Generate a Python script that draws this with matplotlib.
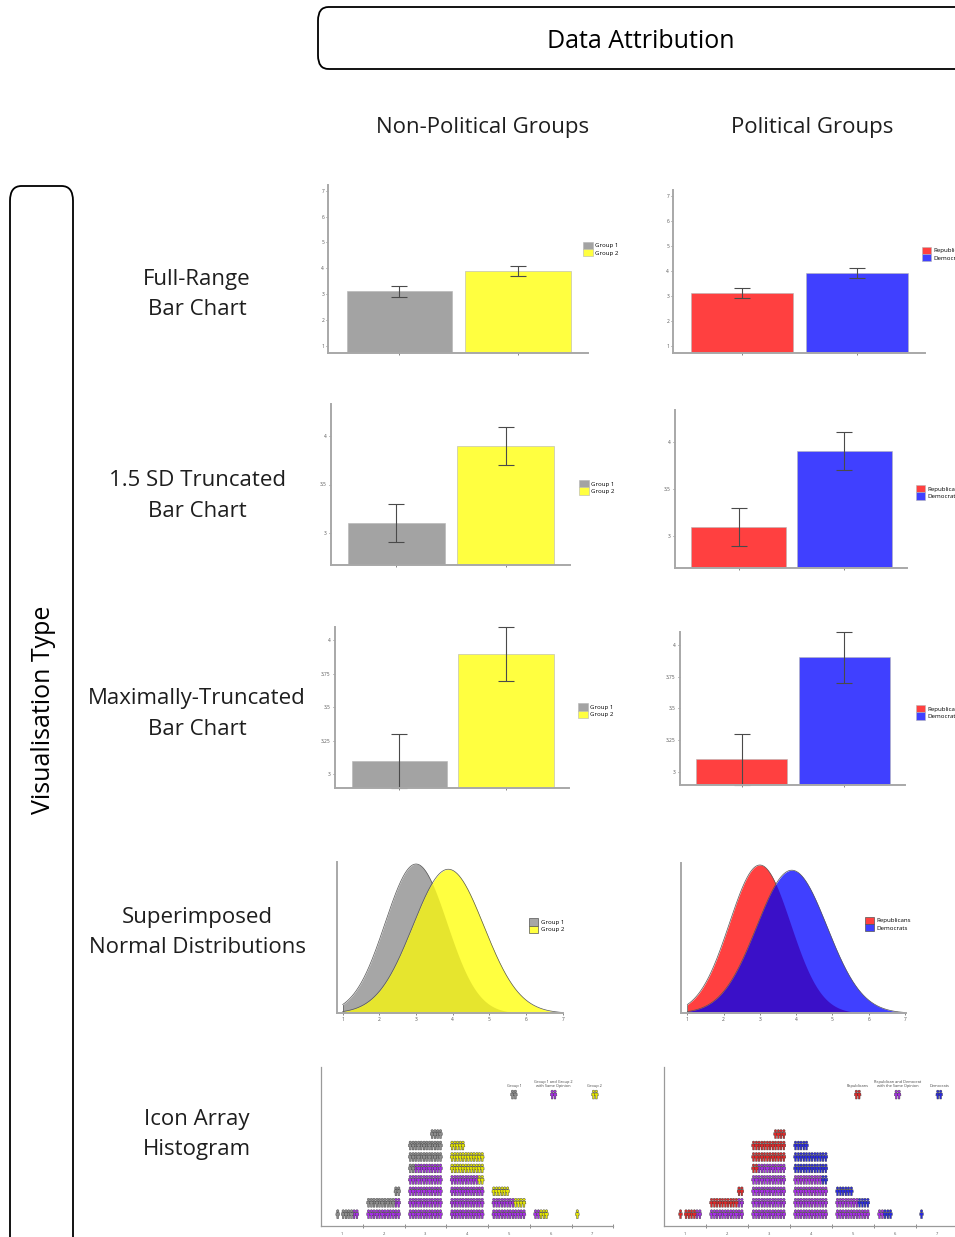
import numpy as np
import matplotlib
matplotlib.use("Agg")
import matplotlib.pyplot as plt
from matplotlib.patches import FancyBboxPatch, Patch
from matplotlib.path import Path
from matplotlib.ticker import FormatStrFormatter

plt.rcParams['font.family'] = ['Open Sans', 'DejaVu Sans']

W, H = 955, 1237

# ---------- data ----------
col_titles = ["Non-Political Groups", "Political Groups"]
row_titles = ["Full-Range\nBar Chart", "1.5 SD Truncated\nBar Chart",
              "Maximally-Truncated\nBar Chart", "Superimposed\nNormal Distributions",
              "Icon Array\nHistogram"]
group_labels = [["Group 1", "Group 2"], ["Republicans", "Democrats"]]
same_labels = ["Group 1 and Group 2\nwith Same Opinion",
               "Republican and Democrat\nwith the Same Opinion"]

means = [3.1, 3.9]
errors = [0.2, 0.2]
bar_yticks = [[1, 2, 3, 4, 5, 6, 7], [3, 3.5, 4], [3, 3.25, 3.5, 3.75, 4]]
bar_ylims = [(0.73, 7.22), (2.667, 4.333), (2.9, 4.1)]

dist_means = [3.0, 3.88]
dist_sds = [0.84, 0.97]
dist_peaks = [1.0, 0.965]
scale_points = [1, 2, 3, 4, 5, 6, 7]

# icon histogram per response option (icons; 0.5 = single person)
icons_same = [1, 7, 29, 23, 10, 1, 0]
icons_g1 = [2.5, 6, 15, 0, 0, 0, 0]
icons_g2 = [0, 0, 0, 15.5, 5, 1.5, 0.5]

# ---------- styles ----------
bar_colors = [["#a3a3a3", "#ffff40"], ["#ff4040", "#4040ff"]]
dist_colors = [["#a6a6a6", "#ffff40"], ["#ff4040", "#4040ff"]]
overlap_colors = ["#e6e52e", "#3a10c8"]
icon_colors = [["#8e8e8e", "#e6e600"], ["#e02828", "#2a2ae0"]]
same_color = "#a62ee6"
txt_color = "#1e1e1e"

fig = plt.figure(figsize=(W / 100, H / 100), dpi=100)


def fx(x):
    return x / W


def fy(y):
    return 1 - y / H


def add_ax(l, t, r, b):
    return fig.add_axes([l / W, 1 - b / H, (r - l) / W, (b - t) / H])


def style(ax, lw=1.4, color="#a8a8a8"):
    for s in ["top", "right"]:
        ax.spines[s].set_visible(False)
    for s in ["left", "bottom"]:
        ax.spines[s].set_color(color)
        ax.spines[s].set_linewidth(lw)
    ax.tick_params(labelsize=3.5, colors="#555555", length=1.5, width=0.5, pad=1.5)
    ax.set_facecolor("none")


def small_legend(ax, handles, labels, x, y):
    ax.legend(handles, labels, loc="upper left", bbox_to_anchor=(fx(x), fy(y)),
              bbox_transform=fig.transFigure, frameon=False, borderpad=0,
              borderaxespad=0, handlelength=1.55, handleheight=1.45,
              labelspacing=0, handletextpad=0.35, fontsize=4.4)


# ---------- header boxes and labels ----------
fig.patches.append(FancyBboxPatch((fx(318), fy(69)), fx(680), 62 / H,
                                  boxstyle="round,pad=0,rounding_size=0.011",
                                  transform=fig.transFigure, fill=False,
                                  ec="black", lw=1.3, clip_on=False))
fig.text(fx(641), fy(41), "Data Attribution", ha="center", va="center",
         fontsize=18, color="black")
fig.patches.append(FancyBboxPatch((fx(10), fy(1270)), 63 / W, 1084 / H,
                                  boxstyle="round,pad=0,rounding_size=0.012",
                                  transform=fig.transFigure, fill=False,
                                  ec="black", lw=1.3, clip_on=False))
fig.text(fx(43), fy(710), "Visualisation Type", ha="center", va="center",
         rotation=90, fontsize=18, color="black")

for x, t in zip([483, 812], col_titles):
    fig.text(fx(x), fy(128), t, ha="center", va="center", fontsize=16, color=txt_color)
for y, t in zip([294.5, 496, 714, 932.5, 1134.5], row_titles):
    fig.text(fx(197), fy(y), t, ha="center", va="center", fontsize=16,
             color=txt_color, linespacing=1.6)

# ---------- bar charts ----------
bar_boxes = [
    [(328.3, 185, 588, 352.7), (673.3, 190, 925, 352.7)],
    [(331, 404, 570, 565), (675, 410, 907, 568)],
    [(335, 627, 569, 787.7), (680, 632, 905, 785)],
]
bar_legend_pos = [
    [(583.3, 241.7), (921.7, 246.7)],
    [(579.3, 480), (916, 485)],
    [(578.3, 703.3), (916, 705)],
]
for r in range(3):
    for c in range(2):
        ax = add_ax(*bar_boxes[r][c])
        style(ax)
        bars = ax.bar([0, 1], means, width=0.89, color=bar_colors[c],
                      edgecolor="#b5b5b5", linewidth=0.4)
        eb = ax.errorbar([0, 1], means, yerr=errors, fmt="none", ecolor="#4a4a4a",
                         elinewidth=0.8, capsize=6, capthick=0.8)
        for art in list(eb.lines[1]) + list(eb.lines[2]):
            art.set_clip_on(False)
        ax.set_xlim(-0.6, 1.59)
        ax.set_ylim(*bar_ylims[r])
        ax.set_yticks(bar_yticks[r])
        ax.yaxis.set_major_formatter(FormatStrFormatter("%g"))
        ax.set_xticks([0, 1])
        ax.set_xticklabels([])
        small_legend(ax, list(bars), group_labels[c], *bar_legend_pos[r][c])

# ---------- superimposed normal distributions ----------
dist_boxes = [(337.3, 861.7, 563.3, 1013.3), (681, 862.7, 905.6, 1013.3)]
dist_xlims = [(0.853, 7.016), (0.826, 7.016)]
dist_legend_pos = [(529, 918.3), (865, 916.7)]
xs = np.linspace(1, 7, 500)
for c in range(2):
    ax = add_ax(*dist_boxes[c])
    style(ax)
    curves = [p * np.exp(-0.5 * ((xs - m) / s) ** 2)
              for m, s, p in zip(dist_means, dist_sds, dist_peaks)]
    ax.fill_between(xs, curves[0], color=dist_colors[c][0], lw=0)
    ax.fill_between(xs, curves[1], color=dist_colors[c][1], lw=0)
    ax.fill_between(xs, np.minimum(curves[0], curves[1]), color=overlap_colors[c], lw=0)
    ax.plot(xs, np.where(curves[0] >= curves[1], curves[0], np.nan), color="#555555", lw=0.5)
    ax.plot(xs, curves[1], color="#555555", lw=0.5)
    ax.plot([1, 1], [0, curves[0][0]], color="#555555", lw=0.5)
    ax.set_xlim(*dist_xlims[c])
    ax.set_ylim(0, max(dist_peaks) * 1.0154)
    ax.set_xticks(scale_points)
    ax.set_yticks([])
    handles = [Patch(fc=dist_colors[c][k], ec="#555555", lw=0.5) for k in range(2)]
    small_legend(ax, handles, group_labels[c], *dist_legend_pos[c])

# ---------- icon array histograms ----------
head = Path.circle((0, 0.66), 0.27)
body = Path([(-0.36, 0.3), (0.36, 0.3), (0.42, -0.28), (0.2, -0.28), (0.18, -1.0),
             (-0.18, -1.0), (-0.2, -0.28), (-0.42, -0.28), (-0.36, 0.3)],
            [Path.MOVETO] + [Path.LINETO] * 7 + [Path.CLOSEPOLY])
person = Path.make_compound_path(head, body)

icon_boxes = [(321, 1066.7, 613.3, 1225.7), (663.7, 1066.7, 957.7, 1225.7)]
col_step = 0.131
pair_dx = 0.034

for c in range(2):
    ax = add_ax(*icon_boxes[c])
    style(ax, lw=0.9, color="#9a9a9a")
    px, py, pc = [], [], []
    for i, b in enumerate(scale_points):
        left_side = icons_g1[i] > 0
        g = icons_g1[i] if left_side else icons_g2[i]
        gcol = icon_colors[c][0] if left_side else icon_colors[c][1]
        slots = [(same_color, False)] * icons_same[i] + [(gcol, False)] * int(g)
        if g % 1:
            slots.append((gcol, True))
        for k, (colr, half) in enumerate(slots):
            row, col = divmod(k, 6)
            if left_side:
                col = 5 - col
            xc = b + (col - 2.5) * col_step
            offs = [-pair_dx] if half else [-pair_dx, pair_dx]
            for o in offs:
                px.append(xc + o)
                py.append(row)
                pc.append(colr)
    # legend icons
    leg_x = [5.12, 6.07, 7.06]
    leg_cols = [icon_colors[c][0], same_color, icon_colors[c][1]]
    leg_txt = [group_labels[c][0], same_labels[c], group_labels[c][1]]
    for lx, lc, lt in zip(leg_x, leg_cols, leg_txt):
        for o in [-pair_dx, pair_dx]:
            px.append(lx + o)
            py.append(10.45)
            pc.append(lc)
        ax.text(lx, 11.0, lt, ha="center", va="bottom", fontsize=2.8,
                color="#444444", linespacing=1.1)
    ax.scatter(px, py, s=44, marker=person, c=pc, edgecolors="#3a3a3a",
               linewidths=0.3, clip_on=False)
    ax.set_xlim(0.5, 7.5)
    ax.set_ylim(-1.02, 12.87)
    ax.set_yticks([])
    ax.set_xticks(scale_points)
    ax.set_xticks(np.arange(1.5, 8, 1.0), minor=True)
    ax.tick_params(axis="x", which="major", length=0, pad=4.5, labelsize=3)
    ax.tick_params(axis="x", which="minor", length=3, width=0.6,
                   direction="inout", color="#777777")

fig.savefig("out.png", dpi=100)
